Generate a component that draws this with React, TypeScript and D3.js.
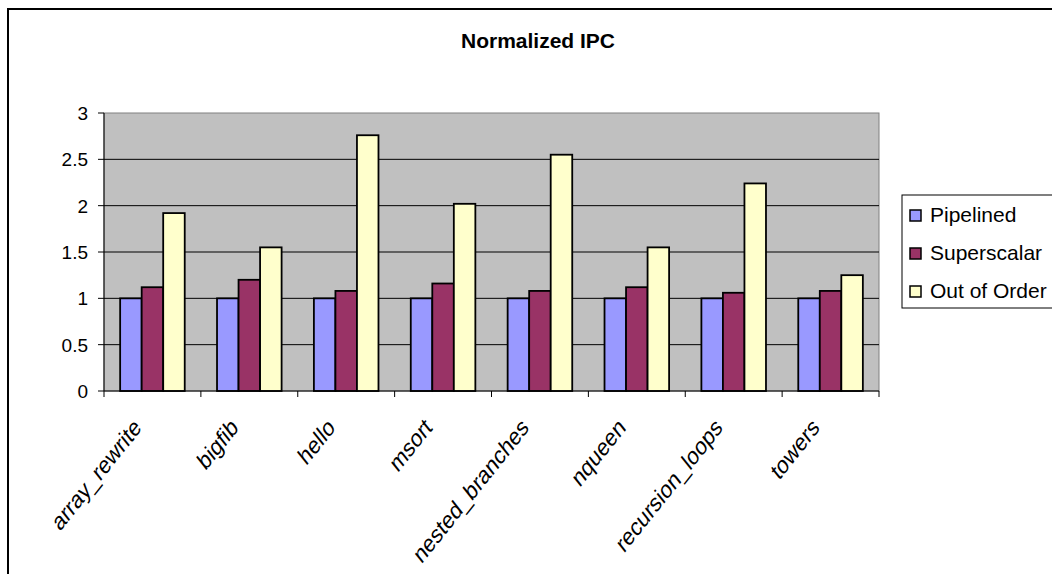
import React from "react";
import * as d3 from "d3";

const categories = ["array_rewrite", "bigfib", "hello", "msort", "nested_branches", "nqueen", "recursion_loops", "towers"];
const seriesNames = ["Pipelined", "Superscalar", "Out of Order"];
const pipelined = [1, 1, 1, 1, 1, 1, 1, 1];
const superscalar = [1.12, 1.2, 1.08, 1.16, 1.08, 1.12, 1.06, 1.08];
const outOfOrder = [1.92, 1.55, 2.76, 2.02, 2.55, 1.55, 2.24, 1.25];
const yTicks = [0, 0.5, 1, 1.5, 2, 2.5, 3];
const colors = ["#9999FF", "#993366", "#FFFFCC"];

export default function App() {
  const W = 1052, H = 574;
  const left = 104, right = 879, top = 113, bottom = 391;
  const x = d3.scaleBand<string>().domain(categories).range([left, right]).paddingInner(0).paddingOuter(0);
  const y = d3.scaleLinear().domain([0, 3]).range([bottom, top]);
  const groupW = x.bandwidth() * (3 / 4.5);
  const xs = d3.scaleBand<number>().domain([0, 1, 2]).range([0, groupW]);
  const series = [pipelined, superscalar, outOfOrder];
  const font = "'Liberation Sans', Arial, sans-serif";

  return (
    <svg width={W} height={H} style={{ position: "absolute", left: 0, top: 0, background: "#fff" }} fontFamily={font}>
      <rect x={8} y={9} width={1200} height={700} fill="none" stroke="#000" strokeWidth={2} />
      <text x={538} y={48} textAnchor="middle" fontWeight="bold" fontSize={21}>Normalized IPC</text>
      <rect x={left} y={top} width={right - left} height={bottom - top} fill="#C0C0C0" stroke="#808080" strokeWidth={1} />
      {yTicks.filter(t => t > 0 && t < 3).map(t => (
        <line key={t} x1={left} x2={right} y1={y(t)} y2={y(t)} stroke="#000" strokeWidth={1} />
      ))}
      {categories.map((c, i) => (
        <g key={c}>
          {series.map((s, j) => (
            <rect key={j}
              x={(x(c) as number) + (x.bandwidth() - groupW) / 2 + (xs(j) as number)}
              y={y(s[i])}
              width={xs.bandwidth()}
              height={bottom - y(s[i])}
              fill={colors[j]} stroke="#000" strokeWidth={1.8} />
          ))}
        </g>
      ))}
      <line x1={left} x2={left} y1={top} y2={bottom} stroke="#000" strokeWidth={1} />
      <line x1={left} x2={right} y1={bottom} y2={bottom} stroke="#000" strokeWidth={1} />
      {yTicks.map(t => (
        <g key={t}>
          <line x1={left - 6} x2={left} y1={y(t)} y2={y(t)} stroke="#000" />
          <text x={88} y={y(t) + 7} textAnchor="end" fontSize={19}>{t}</text>
        </g>
      ))}
      {categories.map((c, i) => (
        <line key={"t" + i} x1={x(c) as number} x2={x(c) as number} y1={bottom} y2={bottom + 6} stroke="#000" />
      ))}
      <line x1={right} x2={right} y1={bottom} y2={bottom + 6} stroke="#000" />
      {categories.map(c => {
        const cx = (x(c) as number) + x.bandwidth() / 2;
        return (
          <text key={"l" + c} transform={`translate(${cx - 10},${bottom + 38}) scale(1,1.25) rotate(-45)`} textAnchor="end" fontSize={20}>{c}</text>
        );
      })}
      <rect x={902} y={195} width={200} height={113} fill="#fff" stroke="#000" strokeWidth={1} />
      {seriesNames.map((n, j) => (
        <g key={n}>
          <rect x={910} y={210 + j * 38} width={11} height={11} fill={colors[j]} stroke="#000" strokeWidth={1.5} />
          <text x={930} y={222 + j * 38} fontSize={21}>{n}</text>
        </g>
      ))}
    </svg>
  );
}
